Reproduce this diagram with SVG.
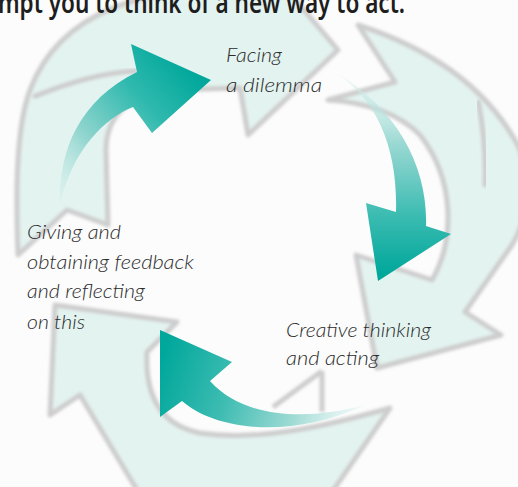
<svg xmlns="http://www.w3.org/2000/svg" width="518" height="487" viewBox="0 0 518 487">
  <defs>
    <filter id="soft" x="-10%" y="-10%" width="120%" height="120%">
      <feGaussianBlur stdDeviation="1.7"/>
    </filter>
    <linearGradient id="g1" gradientUnits="userSpaceOnUse" x1="200" y1="78" x2="58" y2="205">
      <stop offset="0" stop-color="#00a79b"/>
      <stop offset="0.3" stop-color="#2fb9ae"/>
      <stop offset="0.65" stop-color="#8fd5ce"/>
      <stop offset="1" stop-color="#d9f1ee" stop-opacity="0.4"/>
    </linearGradient>
    <linearGradient id="g2" gradientUnits="userSpaceOnUse" x1="0" y1="275" x2="0" y2="72">
      <stop offset="0" stop-color="#00a79b"/>
      <stop offset="0.3" stop-color="#3dbcb2"/>
      <stop offset="0.65" stop-color="#9bd9d3"/>
      <stop offset="1" stop-color="#d9f1ee" stop-opacity="0.3"/>
    </linearGradient>
    <linearGradient id="g3" gradientUnits="userSpaceOnUse" x1="165" y1="345" x2="365" y2="410">
      <stop offset="0" stop-color="#00a79b"/>
      <stop offset="0.35" stop-color="#3dbcb2"/>
      <stop offset="0.7" stop-color="#a3dcd6"/>
      <stop offset="1" stop-color="#d9f1ee" stop-opacity="0.3"/>
    </linearGradient>
    <style>
      .bg { fill: #e3f3f0; stroke: none; }
      .edge { fill: none; stroke: #cdcdcd; stroke-width: 5; stroke-linejoin: round; filter: url(#soft); }
      .lbl { font-family: Lato, "Open Sans", "Liberation Sans", sans-serif; font-style: italic; font-weight: 300; font-size: 20px; fill: #2b2b2b; }
      .title { font-family: "Noto Sans", "Open Sans", "Liberation Sans", sans-serif; font-weight: 600; font-size: 28px; fill: #1e1e1e; }
    </style>
  </defs>

  <rect width="518" height="487" fill="#fcfcfc"/>

  <g id="background">
    <path id="bg-top" class="bg" d="M18,255 L67,210 L108,225 L106,150 C106,115 130,95 170,90 L240,88 L248,135 L338,50 L270,-30 L235,-8 C150,-15 60,10 30,90 C15,130 16,200 18,255 Z"/>
    <path id="bg-right" class="bg" d="M358,25 C420,45 480,80 515,140 C535,175 530,215 512,245 L465,312 L501,335 L377,368 L356,255 L432,280 C455,240 455,180 420,135 C395,110 360,102 328,100 L395,82 Z"/>
    <path id="bg-bottom" class="bg" d="M55,305 L177,322 L147,352 C145,395 160,425 200,433 C260,442 330,425 390,408 L330,495 L140,495 L80,395 L50,415 Z"/>
    <path class="edge" d="M18,255 L67,210 L108,225 L106,150 C106,115 130,95 170,90 L240,88 L248,135 L338,50 L270,-30 L235,-8 C150,-15 60,10 30,90 C15,130 16,200 18,255 Z"/>
    <path class="edge" d="M33,97 C70,82 105,72 137,71"/>
    <path class="edge" d="M358,25 C420,45 480,80 515,140 C535,175 530,215 512,245 L465,312 L501,335 L377,368 L356,255 L432,280 C455,240 455,180 420,135 C395,110 360,102 328,100 L395,82 Z"/>
    <path class="edge" d="M478,100 C484,130 486,160 485,187"/>
    <path class="edge" d="M55,305 L177,322 L147,352 C145,395 160,425 200,433 C260,442 330,425 390,408 L330,495 L140,495 L80,395 L50,415 Z"/>
    <path class="edge" d="M322,371 L273,407 M322,371 L322,412"/>
  </g>

  <g id="connectors">
    <path id="arrow-top" fill="url(#g1)" d="M137,72 L131,44 L211,80 L152,133 L133,107 C105,118 72,150 60,205 C58,150 80,100 137,72 Z"/>
    <path id="arrow-right" fill="url(#g2)" d="M396,212 L366,203 L378,281 L451,234 L426,226 C428,170 400,110 335,72 C378,100 398,150 396,212 Z"/>
    <path id="arrow-bottom" fill="url(#g3)" d="M210,381 L232,362 L160,330 L160,417 L182,401 C215,430 290,440 365,405 C310,420 245,420 210,381 Z"/>
  </g>

  <g id="title">
    <text class="title" x="-2" y="13" textLength="407" lengthAdjust="spacingAndGlyphs">mpt you to think of a new way to act.</text>
  </g>

  <g id="node-dilemma">
    <text class="lbl" x="226" y="62" textLength="56" lengthAdjust="spacingAndGlyphs">Facing</text>
    <text class="lbl" x="226" y="92" textLength="96" lengthAdjust="spacingAndGlyphs">a  dilemma</text>
  </g>

  <g id="node-creative">
    <text class="lbl" x="286" y="337" textLength="145" lengthAdjust="spacingAndGlyphs">Creative thinking</text>
    <text class="lbl" x="286" y="365" textLength="93" lengthAdjust="spacingAndGlyphs">and acting</text>
  </g>

  <g id="node-feedback">
    <text class="lbl" x="27" y="239" textLength="94" lengthAdjust="spacingAndGlyphs">Giving and</text>
    <text class="lbl" x="27" y="269" textLength="167" lengthAdjust="spacingAndGlyphs">obtaining feedback</text>
    <text class="lbl" x="27" y="298" textLength="118" lengthAdjust="spacingAndGlyphs">and reflecting</text>
    <text class="lbl" x="27" y="329" textLength="58" lengthAdjust="spacingAndGlyphs">on this</text>
  </g>
</svg>
